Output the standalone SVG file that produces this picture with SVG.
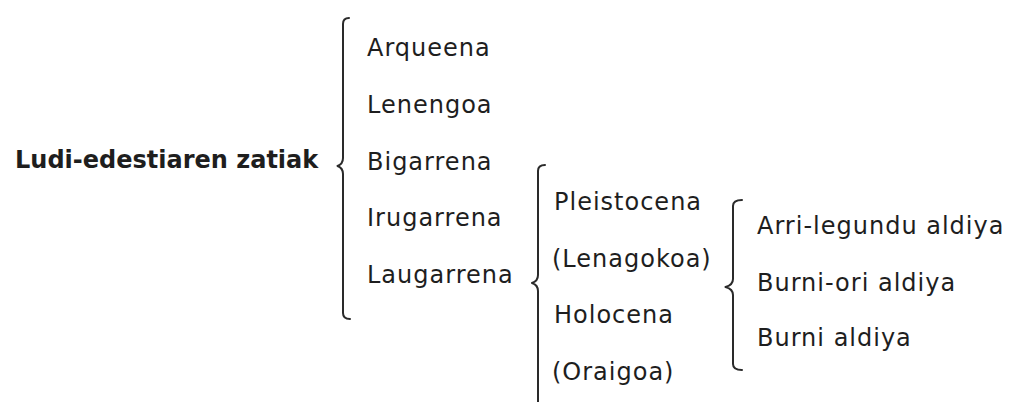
<svg xmlns="http://www.w3.org/2000/svg" width="1010" height="402" viewBox="0 0 1010 402">
<style>
.t{font-family:"DejaVu Sans","Liberation Sans",sans-serif;font-size:24px;fill:#1e1e1e;letter-spacing:1px}
.title{font-family:"DejaVu Sans","Liberation Sans",sans-serif;font-size:24px;font-weight:bold;fill:#1e1e1e}
.brace{fill:none;stroke:#2a2a2a;stroke-width:2;stroke-linecap:round;stroke-linejoin:round}
</style>
<rect width="1010" height="402" fill="#ffffff"/>
<g id="connectors">
<path class="brace" d="M349,18 Q343,18 343,24 L343,158 Q343,164 337.5,166 Q343,168 343,174 L343,313 Q343,319 350,319"/>
<path class="brace" d="M545,165 Q538,165 538,171 L538,275 Q538,281 532,283 Q538,285 538,291 L538,404"/>
<path class="brace" d="M742,200 Q733,200 733,206 L733,279 Q733,285 725.5,287 Q733,289 733,295 L733,364 Q733,370 742,370"/>
</g>
<g id="root"><text class="title" x="15" y="168">Ludi-edestiaren zatiak</text></g>
<g id="arqueena"><text class="t" x="367" y="56">Arqueena</text></g>
<g id="lenengoa"><text class="t" x="367" y="113">Lenengoa</text></g>
<g id="bigarrena"><text class="t" x="367" y="170">Bigarrena</text></g>
<g id="irugarrena"><text class="t" x="367" y="226">Irugarrena</text></g>
<g id="laugarrena"><text class="t" x="367" y="283">Laugarrena</text></g>
<g id="pleistocena"><text class="t" x="554" y="210">Pleistocena</text></g>
<g id="lenagokoa"><text class="t" x="552" y="267">(Lenagokoa)</text></g>
<g id="holocena"><text class="t" x="554" y="323">Holocena</text></g>
<g id="oraigoa"><text class="t" x="552" y="380">(Oraigoa)</text></g>
<g id="arri-legundu"><text class="t" x="757" y="234">Arri-legundu aldiya</text></g>
<g id="burni-ori"><text class="t" x="757" y="291">Burni-ori aldiya</text></g>
<g id="burni"><text class="t" x="757" y="346">Burni aldiya</text></g>
</svg>
